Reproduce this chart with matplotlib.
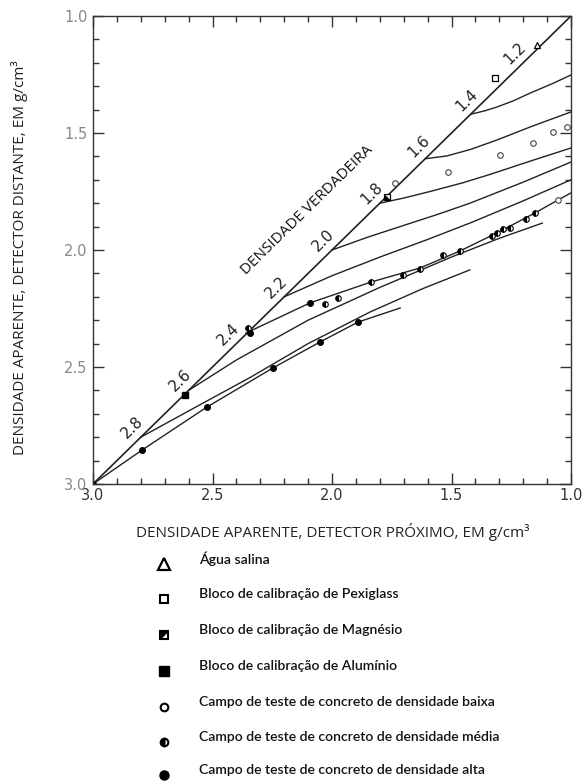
import matplotlib
matplotlib.use("Agg")
import matplotlib.pyplot as plt
import numpy as np
from matplotlib.path import Path

# ---------------- data ----------------
diag_labels = [2.8, 2.6, 2.4, 2.2, 2.0, 1.8, 1.6, 1.4, 1.2]

# curves (near detector x, far detector y)
c0_x = [3.0, 2.795, 2.523, 2.247, 2.050, 1.891, 1.715]
c0_y = [3.0, 2.855, 2.671, 2.504, 2.393, 2.308, 2.248]
c1_x = [2.8, 2.55, 2.343, 2.10, 1.841, 1.62, 1.423]
c1_y = [2.8, 2.66, 2.545, 2.40, 2.265, 2.165, 2.085]
c2_x = [2.6, 2.40, 2.10, 1.80, 1.50, 1.30, 1.12]
c2_y = [2.6, 2.47, 2.30, 2.16, 2.03, 1.95, 1.885]
c3_x = [2.36, 2.092, 1.837, 1.632, 1.464, 1.310, 1.151, 1.054, 1.0]
c3_y = [2.355, 2.226, 2.137, 2.077, 2.004, 1.927, 1.842, 1.786, 1.756]
c4_x = [2.2, 2.0, 1.799, 1.60, 1.423, 1.20, 1.0]
c4_y = [2.2, 2.11, 2.030, 1.955, 1.885, 1.79, 1.70]
c5_x = [2.0, 1.85, 1.715, 1.55, 1.423, 1.20, 1.0]
c5_y = [2.0, 1.945, 1.900, 1.845, 1.800, 1.71, 1.624]
c6_x = [1.8, 1.70, 1.590, 1.45, 1.339, 1.17, 1.0]
c6_y = [1.8, 1.778, 1.750, 1.712, 1.677, 1.62, 1.564]
c7_x = [1.61, 1.519, 1.42, 1.310, 1.16, 1.0]
c7_y = [1.61, 1.598, 1.570, 1.530, 1.47, 1.41]
c8_x = [1.42, 1.36, 1.31, 1.24, 1.17, 1.08, 1.0]
c8_y = [1.42, 1.405, 1.389, 1.362, 1.329, 1.29, 1.252]
curves_x = [c0_x, c1_x, c2_x, c3_x, c4_x, c5_x, c6_x, c7_x, c8_x]
curves_y = [c0_y, c1_y, c2_y, c3_y, c4_y, c5_y, c6_y, c7_y, c8_y]

agua_x, agua_y = [1.142], [1.124]
pexi_x, pexi_y = [1.318], [1.265]
magn_x, magn_y = [1.77], [1.773]
alum_x, alum_y = [2.615], [2.62]
low_x = [1.515, 1.297, 1.159, 1.075, 1.017, 1.736, 1.054]
low_y = [1.667, 1.594, 1.543, 1.496, 1.474, 1.714, 1.786]
med_x = [2.351, 2.029, 1.975, 1.837, 1.703, 1.632, 1.536, 1.464, 1.331, 1.310, 1.285, 1.255, 1.188, 1.151]
med_y = [2.333, 2.231, 2.205, 2.137, 2.107, 2.081, 2.021, 2.004, 1.940, 1.927, 1.910, 1.906, 1.868, 1.842]
high_x = [3.0, 2.795, 2.523, 2.247, 2.050, 1.891, 2.092, 2.343]
high_y = [3.0, 2.855, 2.671, 2.504, 2.393, 2.308, 2.226, 2.355]

xticks = [3.0, 2.5, 2.0, 1.5, 1.0]
yticks = [1.0, 1.5, 2.0, 2.5, 3.0]
xtick_labels = ["3.0", "2.5", "2.0", "1.5", "1.0"]
ytick_labels = ["1.0", "1.5", "2.0", "2.5", "3.0"]

legend_labels = [
    "Água salina",
    "Bloco de calibração de Pexiglass",
    "Bloco de calibração de Magnésio",
    "Bloco de calibração de Alumínio",
    "Campo de teste de concreto de densidade baixa",
    "Campo de teste de concreto de densidade média",
    "Campo de teste de concreto de densidade alta",
]

# ---------------- figure ----------------
W, H = 586, 782
fig = plt.figure(figsize=(W / 100, H / 100), dpi=100)
ax = fig.add_axes([93 / W, 1 - 484 / H, (571 - 93) / W, (484 - 16) / H])
ax.set_xlim(3.0, 1.0)
ax.set_ylim(3.0, 1.0)

LC = "#222222"
ax.plot([3.0, 1.0], [3.0, 1.0], color=LC, lw=1.2)
for cx, cy in zip(curves_x, curves_y):
    ax.plot(cx, cy, color=LC, lw=1.0)

# diagonal labels
for v in diag_labels:
    ax.annotate(f"{v:.1f}", xy=(v, v), xytext=(-6, 7), textcoords="offset points",
                rotation=44.4, ha="center", va="center", fontsize=11,
                family="DejaVu Sans", color="#222222")
ax.text(2.105, 1.83, "DENSIDADE VERDADEIRA", rotation=44.4, ha="center", va="center",
        fontsize=11, family="Open Sans", color="#111111")

ms = 4.5
ax.plot(agua_x, agua_y, "^", mfc="white", mec="black", ms=ms, mew=0.9)
ax.plot(pexi_x, pexi_y, "s", mfc="white", mec="black", ms=ms - 0.5, mew=0.9)
tri = Path([(-1, -1), (1, -1), (-1, 1), (-1, -1)], [Path.MOVETO, Path.LINETO, Path.LINETO, Path.CLOSEPOLY])
ax.plot(magn_x, magn_y, "s", mfc="white", mec="black", ms=ms - 0.5, mew=0.9)
ax.plot(magn_x, magn_y, marker=tri, ls="none", mfc="black", mec="black", ms=ms - 0.5, mew=0.3)
ax.plot(alum_x, alum_y, "s", mfc="black", mec="black", ms=ms + 0.5)
ax.plot(low_x, low_y, "o", mfc="white", mec="#444444", ms=ms - 0.5, mew=0.8)
ax.plot(med_x, med_y, "o", fillstyle="left", mfc="black", mfcalt="white", mec="black", ms=ms - 0.5, mew=0.8)
ax.plot(high_x, high_y, "o", mfc="black", mec="black", ms=ms - 0.5)

ax.set_xticks(xticks)
ax.set_xticklabels(xtick_labels)
ax.set_yticks(yticks)
ax.set_yticklabels(ytick_labels)
ax.set_xticks(np.arange(1.0, 3.01, 0.1), minor=True)
ax.set_yticks(np.arange(1.0, 3.01, 0.1), minor=True)
ax.tick_params(which="both", direction="in", top=True, right=True, color="#333333", width=1.0)
ax.tick_params(which="major", length=8)
ax.tick_params(which="minor", length=4)
ax.tick_params(axis="x", labelsize=10.5, labelcolor="#333333", pad=3)
ax.tick_params(axis="y", labelsize=10.5, labelcolor="#888888", pad=4)
for lab in ax.get_xticklabels() + ax.get_yticklabels():
    lab.set_family("DejaVu Sans")
for s in ax.spines.values():
    s.set_color("#333333")
    s.set_linewidth(1.0)

fig.text(333 / W, 1 - 532 / H, "DENSIDADE APARENTE, DETECTOR PRÓXIMO, EM g/cm³",
         ha="center", va="center", fontsize=11, family="Open Sans", color="#222222")
fig.text(20 / W, 1 - 258 / H, "DENSIDADE APARENTE, DETECTOR DISTANTE, EM g/cm³",
         ha="center", va="center", rotation=90, fontsize=11, family="Open Sans", color="#222222")

# legend (manual, below the chart)
lax = fig.add_axes([0, 0, 1, 1], facecolor="none")
lax.set_xlim(0, W)
lax.set_ylim(H, 0)
lax.axis("off")
rows = [562, 597, 633, 669, 705, 740, 773]
mx, tx = 164, 199
lms = 7
lax.plot([mx], [rows[0] + 2], "^", mfc="white", mec="black", ms=lms + 1, mew=1.6)
lax.plot([mx], [rows[1] + 2], "s", mfc="white", mec="black", ms=lms - 1, mew=1.5)
lax.plot([mx], [rows[2] + 2], "s", mfc="white", mec="black", ms=lms - 1, mew=1.5)
tri2 = Path([(-1, 1), (1, 1), (-1, -1), (-1, 1)], [Path.MOVETO, Path.LINETO, Path.LINETO, Path.CLOSEPOLY])
lax.plot([mx], [rows[2] + 2], marker=tri2, ls="none", mfc="black", mec="black", ms=lms - 1, mew=0.3)
lax.plot([mx], [rows[3] + 2], "s", mfc="black", mec="black", ms=lms)
lax.plot([mx], [rows[4] + 2], "o", mfc="white", mec="black", ms=lms - 1.5, mew=1.5)
lax.plot([mx], [rows[5] + 2], "o", fillstyle="left", mfc="black", mfcalt="white", mec="black", ms=lms - 1.5, mew=1.5)
lax.plot([mx], [rows[6] + 2], "o", mfc="black", mec="black", ms=lms - 0.5)
for r, t in zip(rows, legend_labels):
    lax.text(tx, r - 3, t, ha="left", va="center", fontsize=10.1, family="Lato",
             fontweight="semibold", color="#111111")

fig.savefig("out.png", dpi=100)
